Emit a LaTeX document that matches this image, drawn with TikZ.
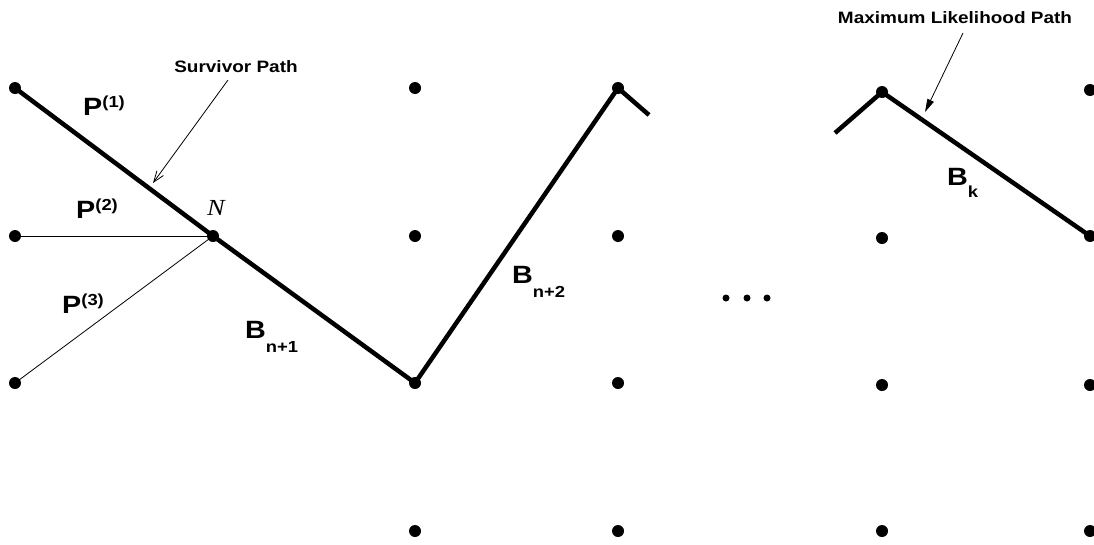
\documentclass[tikz,border=0pt]{standalone}
\usepackage{fontspec}
\setmainfont{Liberation Sans}[FakeStretch=1.15]
\newfontfamily\tnrfont{Liberation Serif}[FakeStretch=1.15]
\usetikzlibrary{arrows.meta}
\newcommand\BigLetter[1]{{\fontsize{25}{25}\selectfont\bfseries #1}}
\newcommand\SmallPart[1]{{\fontsize{16}{16}\selectfont\bfseries #1}}
\begin{document}
\begin{tikzpicture}[x=1pt,y=-1pt,
  dot/.style={circle,fill=black,inner sep=0pt,minimum size=12pt},
  tinydot/.style={circle,fill=black,inner sep=0pt,minimum size=7pt},
  heavy/.style={line width=4.5pt,line join=miter,line cap=butt},
  light/.style={line width=0.8pt},
  lbl/.style={inner sep=0pt,anchor=base west},
  note/.style={inner sep=0pt,anchor=base,font=\fontsize{16.5}{16.5}\selectfont\bfseries},
  pointer/.style={line width=0.8pt}
]
\useasboundingbox (0,0) rectangle (1094,544);
% dots
\node[dot] (a1) at (15,88) {};
\node[dot] (a2) at (15,236) {};
\node[dot] (a3) at (15,383) {};
\node[dot] (N) at (213,236) {};
\node[dot] (b1) at (415,88) {};
\node[dot] (b2) at (415,236) {};
\node[dot] (b3) at (415,383) {};
\node[dot] (b4) at (415,531) {};
\node[dot] (c1) at (618,88) {};
\node[dot] (c2) at (618,236) {};
\node[dot] (c3) at (618,383) {};
\node[dot] (c4) at (618,531) {};
\node[dot] (d1) at (882,92) {};
\node[dot] (d2) at (882,238) {};
\node[dot] (d3) at (882,385) {};
\node[dot] (d4) at (882,531) {};
\node[dot] (e1) at (1090,90) {};
\node[dot] (e2) at (1090,236) {};
\node[dot] (e3) at (1090,385) {};
\node[dot] (e4) at (1090,531) {};
% ellipsis
\node[tinydot] (m1) at (726,298) {};
\node[tinydot] (m2) at (747,298) {};
\node[tinydot] (m3) at (767,298) {};
% stub ends
\coordinate (s1) at (649,115);
\coordinate (s2) at (835,133);
% paths
\draw[heavy] (a1.center) -- (N.center) -- (b3.center) -- (c1.center) -- (s1);
\draw[heavy] (s2) -- (d1.center) -- (e2.center);
\draw[light] (a2.center) -- (N.center);
\draw[light] (a3.center) -- (N.center);
% labels
\node[lbl] (p1) at (83,115) {\BigLetter{P}\raisebox{8pt}{\SmallPart{(1)}}};
\node[lbl] (p2) at (76,218) {\BigLetter{P}\raisebox{8pt}{\SmallPart{(2)}}};
\node[lbl] (p3) at (62,313) {\BigLetter{P}\raisebox{8pt}{\SmallPart{(3)}}};
\node[lbl] (nlab) at (207,215) {\fontsize{23}{23}\selectfont\tnrfont\itshape N};
\node[lbl] (bn1) at (245,338) {\BigLetter{B}\raisebox{-14pt}{\SmallPart{n+1}}};
\node[lbl] (bn2) at (512,283) {\BigLetter{B}\raisebox{-14pt}{\SmallPart{n+2}}};
\node[lbl] (bk) at (947,185) {\BigLetter{B}\raisebox{-12pt}{\SmallPart{k}}};
% notes with pointers
\node[note] (sp) at (236,72) {Survivor Path};
\node[note] (ml) at (955,23) {Maximum Likelihood Path};
\coordinate (spt) at (228,80);
\coordinate (sph) at (153,183);
\coordinate (mlt) at (963,33);
\coordinate (mlh) at (925,112);
\draw[pointer,-{Straight Barb[length=11pt,width=8pt]}] (spt) -- (sph);
\draw[pointer,-{Stealth[length=13pt,width=7pt,inset=0pt]}] (mlt) -- (mlh);
\end{tikzpicture}
\end{document}
